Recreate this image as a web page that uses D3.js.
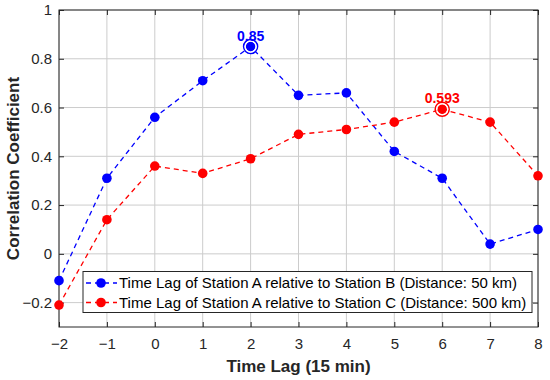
<!DOCTYPE html>
<html><head><meta charset="utf-8">
<script src="https://cdn.jsdelivr.net/npm/d3@7"></script>
<style>body{margin:0;background:#fff}svg{display:block}text{font-family:"Liberation Sans",Arial,sans-serif}</style>
</head><body>
<script>
const lags = [-2,-1,0,1,2,3,4,5,6,7,8];
const seriesB = [-0.11,0.31,0.56,0.71,0.85,0.65,0.66,0.42,0.31,0.04,0.10];
const seriesC = [-0.21,0.14,0.36,0.33,0.39,0.49,0.51,0.54,0.593,0.54,0.32];
const seriesNames = ["Time Lag of Station A relative to Station B (Distance: 50 km)",
                     "Time Lag of Station A relative to Station C (Distance: 500 km)"];
const seriesColors = ["#0000ff","#ff0000"];
const xTicks = [-2,-1,0,1,2,3,4,5,6,7,8];
const yTicks = [-0.2,0,0.2,0.4,0.6,0.8,1];
const peaks = [{lag:2,value:0.85,label:"0.85"},{lag:6,value:0.593,label:"0.593"}];

const W=550,H=380;
const m={l:59,r:12,t:10,b:53};
const svg=d3.select("body").append("svg").attr("width",W).attr("height",H);
const x=d3.scaleLinear().domain([-2,8]).range([m.l,W-m.r]);
const y=d3.scaleLinear().domain([-0.3,1]).range([H-m.b,m.t]);
const fmt=d=>d===0?"0":(d<0?"\u2212"+String(Math.abs(d)):String(d));

// grid
const g=svg.append("g");
g.selectAll(".gx").data(xTicks).enter().append("line")
 .attr("x1",d=>x(d)).attr("x2",d=>x(d)).attr("y1",m.t).attr("y2",H-m.b)
 .attr("stroke","#cccccc").attr("stroke-width",1);
g.selectAll(".gy").data(yTicks).enter().append("line")
 .attr("y1",d=>y(d)).attr("y2",d=>y(d)).attr("x1",m.l).attr("x2",W-m.r)
 .attr("stroke","#cccccc").attr("stroke-width",1);

// axes
const ax=(gen,tr)=>svg.append("g").attr("transform",tr).call(gen);
const style=sel=>{sel.select(".domain").remove();sel.selectAll("line").attr("stroke","#262626");
 sel.selectAll("text").attr("font-size",15).attr("fill","#262626");};
style(ax(d3.axisBottom(x).tickValues(xTicks).tickSize(-5).tickPadding(11).tickFormat(fmt),`translate(0,${H-m.b})`));
style(ax(d3.axisTop(x).tickValues(xTicks).tickSize(-5).tickFormat(""),`translate(0,${m.t})`));
style(ax(d3.axisLeft(y).tickValues(yTicks).tickSize(-5).tickPadding(7).tickFormat(fmt),`translate(${m.l},0)`));
style(ax(d3.axisRight(y).tickValues(yTicks).tickSize(-5).tickFormat(""),`translate(${W-m.r},0)`));
svg.append("rect").attr("x",m.l).attr("y",m.t).attr("width",W-m.r-m.l).attr("height",H-m.b-m.t)
 .attr("fill","none").attr("stroke","#262626").attr("stroke-width",1);

// series
const line=d3.line().x((d,i)=>x(lags[i])).y(d=>y(d));
[seriesB,seriesC].forEach((s,k)=>{
 svg.append("path").datum(s).attr("d",line).attr("fill","none").attr("stroke",seriesColors[k])
  .attr("stroke-width",1.3).attr("stroke-dasharray","5,4");
 svg.selectAll(null).data(s).enter().append("circle").attr("cx",(d,i)=>x(lags[i])).attr("cy",d=>y(d))
  .attr("r",4.8).attr("fill",seriesColors[k]);
});
// peaks
peaks.forEach((p,k)=>{
 svg.append("circle").attr("cx",x(p.lag)).attr("cy",y(p.value)).attr("r",7).attr("fill","none")
  .attr("stroke",seriesColors[k]).attr("stroke-width",1.5);
 svg.append("circle").attr("cx",x(p.lag)).attr("cy",y(p.value)).attr("r",5.5).attr("fill","none")
  .attr("stroke","#fff").attr("stroke-width",1.2);
 svg.append("text").attr("x",x(p.lag)).attr("y",y(p.value)-6).attr("text-anchor","middle")
  .attr("font-size",14).attr("font-weight","bold").attr("fill",seriesColors[k]).text(p.label);
});

// legend
const lg=svg.append("g");
lg.append("rect").attr("x",83).attr("y",271.5).attr("width",449).attr("height",41)
 .attr("fill","#fff").attr("stroke","#262626").attr("stroke-width",1);
seriesNames.forEach((n,k)=>{
 const yy=283+k*19.5;
 lg.append("line").attr("x1",86).attr("x2",117).attr("y1",yy).attr("y2",yy)
  .attr("stroke",seriesColors[k]).attr("stroke-width",1.3).attr("stroke-dasharray","5,4");
 lg.append("circle").attr("cx",101).attr("cy",yy).attr("r",4.8).attr("fill",seriesColors[k]);
 lg.append("text").attr("x",119).attr("y",yy+5.3).attr("font-size",15).attr("fill","#000").text(n);
});

// titles
svg.append("text").attr("x",(m.l+W-m.r)/2).attr("y",372).attr("text-anchor","middle")
 .attr("font-size",17).attr("font-weight","bold").attr("fill","#262626").text("Time Lag (15 min)");
svg.append("text").attr("transform",`translate(19,${(m.t+H-m.b)/2}) rotate(-90)`).attr("text-anchor","middle")
 .attr("font-size",17).attr("font-weight","bold").attr("fill","#262626").text("Correlation Coefficient");
</script>
</body></html>
